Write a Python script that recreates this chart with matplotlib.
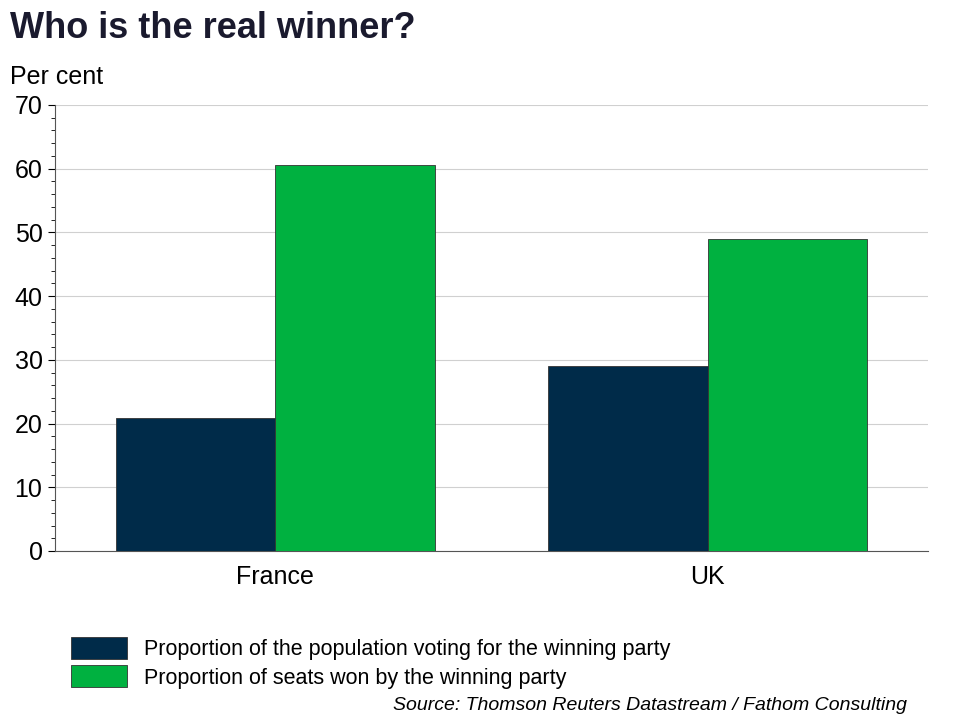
import matplotlib.pyplot as plt
import numpy as np
from matplotlib.patches import Patch
from matplotlib.ticker import MultipleLocator

plt.rcParams['font.family'] = 'Liberation Sans'

countries = ['France', 'UK']
votes = [20.8, 29.1]
seats = [60.6, 48.9]
labels = ['Proportion of the population voting for the winning party',
          'Proportion of seats won by the winning party']
colors = ['#002b49', '#00b140']

fig = plt.figure(figsize=(9.6, 7.2), dpi=100)
ax = fig.add_axes([55/960, 1-551/720, 873/960, 446/720])

x = np.arange(len(countries))
w = 0.37
ax.bar(x - w/2, votes, w, color=colors[0], edgecolor='#333333', linewidth=0.6, zorder=3)
ax.bar(x + w/2, seats, w, color=colors[1], edgecolor='#333333', linewidth=0.6, zorder=3)

ax.set_xlim(-0.51, 1.51)
ax.set_ylim(0, 70)
ax.set_xticks(x)
ax.set_xticklabels(countries, fontsize=18)
ax.yaxis.set_major_locator(MultipleLocator(10))
ax.yaxis.set_minor_locator(MultipleLocator(2))
ax.tick_params(axis='y', labelsize=18, length=5, direction='out', pad=4)
ax.tick_params(axis='y', which='minor', length=3)
ax.tick_params(axis='x', length=6, direction='in', pad=10)
ax.grid(axis='y', color='#d0d0d0', linewidth=0.8, zorder=0)
for s in ['top', 'right']:
    ax.spines[s].set_visible(False)
ax.spines['left'].set_color('#555555')
ax.spines['bottom'].set_color('#555555')

fig.text(10/960, 1-28/720, 'Who is the real winner?', fontsize=26, fontweight='bold',
         color='#1a1a2e', va='center')
fig.text(10/960, 1-77/720, 'Per cent', fontsize=18, va='center')

handles = [Patch(facecolor=c, edgecolor='#333333', linewidth=0.6) for c in colors]
fig.legend(handles, labels, loc='upper left', bbox_to_anchor=(62/960, 1-628/720),
           frameon=False, fontsize=15.5, handlelength=2.6, handleheight=1.2,
           labelspacing=0.25, borderaxespad=0)
fig.text(907/960, 1-705/720, 'Source: Thomson Reuters Datastream / Fathom Consulting',
         fontsize=14, style='italic', ha='right', va='center')

fig.savefig('out.png', dpi=100)
